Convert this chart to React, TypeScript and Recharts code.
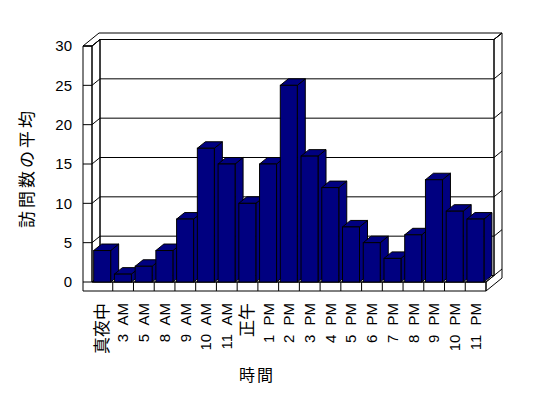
import React from 'react';
import { BarChart, Bar, XAxis, YAxis, CartesianGrid, Label, usePlotArea } from 'recharts';

// 時間帯ごとの平均訪問数
const hours = ['真夜中', '3 AM', '5 AM', '8 AM', '9 AM', '10 AM', '11 AM', '正午', '1 PM', '2 PM', '3 PM', '4 PM', '5 PM', '6 PM', '7 PM', '8 PM', '9 PM', '10 PM', '11 PM'];
const visits = [4, 1, 2, 4, 8, 17, 15, 10, 15, 25, 16, 12, 7, 5, 3, 6, 13, 9, 8];
const yTicks = [0, 5, 10, 15, 20, 25, 30];

const data = hours.map((h, i) => ({ hour: h, visits: visits[i] }));

const DX = 8;
const DY = -6.5;
const WALL = 9;
const FLOOR = 9;
const NAVY = '#000080';
const FONT = '"Liberation Sans", Arial, "Noto Sans CJK JP", sans-serif';

const pts = (arr) => arr.map((p) => p.join(',')).join(' ');

const Box3D = (props) => {
  const { x, y, width: w, height: h } = props;
  if (h == null || w == null) return null;
  return (
    <g stroke="#000" strokeWidth={1} fill={NAVY}>
      <polygon points={pts([[x + w, y], [x + w + DX, y + DY], [x + w + DX, y + h + DY], [x + w, y + h]])} />
      <polygon points={pts([[x, y], [x + DX, y + DY], [x + w + DX, y + DY], [x + w, y]])} />
      <rect x={x} y={y} width={w} height={h} />
    </g>
  );
};

const Walls = () => {
  const p = usePlotArea();
  if (!p) return null;
  const L = p.x, R = p.x + p.width, T = p.y, B = p.y + p.height;
  const bw = p.width / hours.length;
  return (
    <g fill="none" stroke="#000" strokeWidth={1}>
      <polygon points={pts([[L - WALL, T], [L, T], [L, B], [R, B], [R, B + FLOOR], [L - WALL, B + FLOOR]])} />
      <polygon points={pts([[L, T], [L + DX, T + DY], [L + DX, B + DY], [L, B]])} />
      <polygon points={pts([[L, B], [L + DX, B + DY], [R + DX, B + DY], [R, B]])} />
      <rect x={L + DX} y={T + DY} width={p.width} height={p.height} />
      <polygon points={pts([[L - WALL, T], [L, T], [L + DX, T + DY], [R + DX, T + DY], [R + 2 * DX, T + 2 * DY], [L - WALL + 2 * DX, T + 2 * DY]])} />
      <polygon points={pts([[R + DX, T + DY], [R + 2 * DX, T + 2 * DY], [R + 2 * DX, B + FLOOR + 2 * DY], [R, B + FLOOR], [R, B], [R + DX, B + DY]])} />
      {hours.slice(1).map((h, i) => (
        <line key={h} x1={L + (i + 1) * bw} x2={L + (i + 1) * bw} y1={B} y2={B + FLOOR} />
      ))}
    </g>
  );
};

const GridLine = (props) => {
  const { x1, x2, y1 } = props;
  const yb = y1 + DY;
  return (
    <g stroke="#000" strokeWidth={1} fill="none">
      <line x1={x1 - WALL} x2={x1} y1={y1} y2={y1} />
      <line x1={x1} y1={y1} x2={x1 + DX} y2={yb} />
      <line x1={x1 + DX} y1={yb} x2={x2 + DX} y2={yb} />
      <line x1={x2 + DX} y1={yb} x2={x2 + 2 * DX} y2={yb + DY} />
    </g>
  );
};

const YTick = ({ x, y, payload }) => (
  <text x={x} y={y} dy="0.35em" textAnchor="end" fontSize={15} fontFamily={FONT} fill="#000">
    {payload.value}
  </text>
);

const XTick = ({ x, y, payload }) => {
  const cjk = /[^\x00-\x7F]/.test(payload.value);
  const ty = y + 21;
  return (
    <text
      x={x}
      y={ty}
      dy="0.35em"
      textAnchor="end"
      fontSize={cjk ? 17 : 15}
      wordSpacing={5}
      fontFamily={FONT}
      fill="#000"
      transform={`rotate(-90, ${x}, ${ty})`}
    >
      {payload.value}
    </text>
  );
};

const App = () => {
  return (
    <div style={{ position: 'absolute', left: 0, top: 0 }}>
      <BarChart
        width={548}
        height={398}
        data={data}
        margin={{ top: 46, right: 62, bottom: 0, left: 0 }}
        barCategoryGap="8%"
      >
        <Walls />
        <CartesianGrid vertical={false} horizontal={(props) => <GridLine key={props.key ?? props.index} {...props} />} />
        <XAxis dataKey="hour" interval={0} height={116} tickSize={0} tickMargin={0} axisLine={false} tickLine={false} tick={<XTick />}>
          <Label
            content={({ viewBox }) => (
              <text x={viewBox.x + viewBox.width / 2 - 32} y={viewBox.y + 99} textAnchor="middle" fontSize={16} letterSpacing={2} fontFamily={FONT} fill="#000">
                時間
              </text>
            )}
          />
        </XAxis>
        <YAxis domain={[0, 30]} ticks={yTicks} width={92} tickSize={0} tickMargin={20} axisLine={false} tickLine={false} tick={<YTick />}>
          <Label
            content={({ viewBox }) => {
              const cx = viewBox.x + 27.5;
              const cy = viewBox.y + viewBox.height / 2 + 4;
              return (
                <text x={cx} y={cy} dy="0.35em" textAnchor="middle" fontSize={17} letterSpacing={3} fontFamily={FONT} fill="#000" stroke="none" transform={`rotate(-90, ${cx}, ${cy})`}>
                  訪問数の平均
                </text>
              );
            }}
          />
        </YAxis>
        <Bar dataKey="visits" shape={<Box3D />} isAnimationActive={false} />
      </BarChart>
    </div>
  );
};

export default App;
